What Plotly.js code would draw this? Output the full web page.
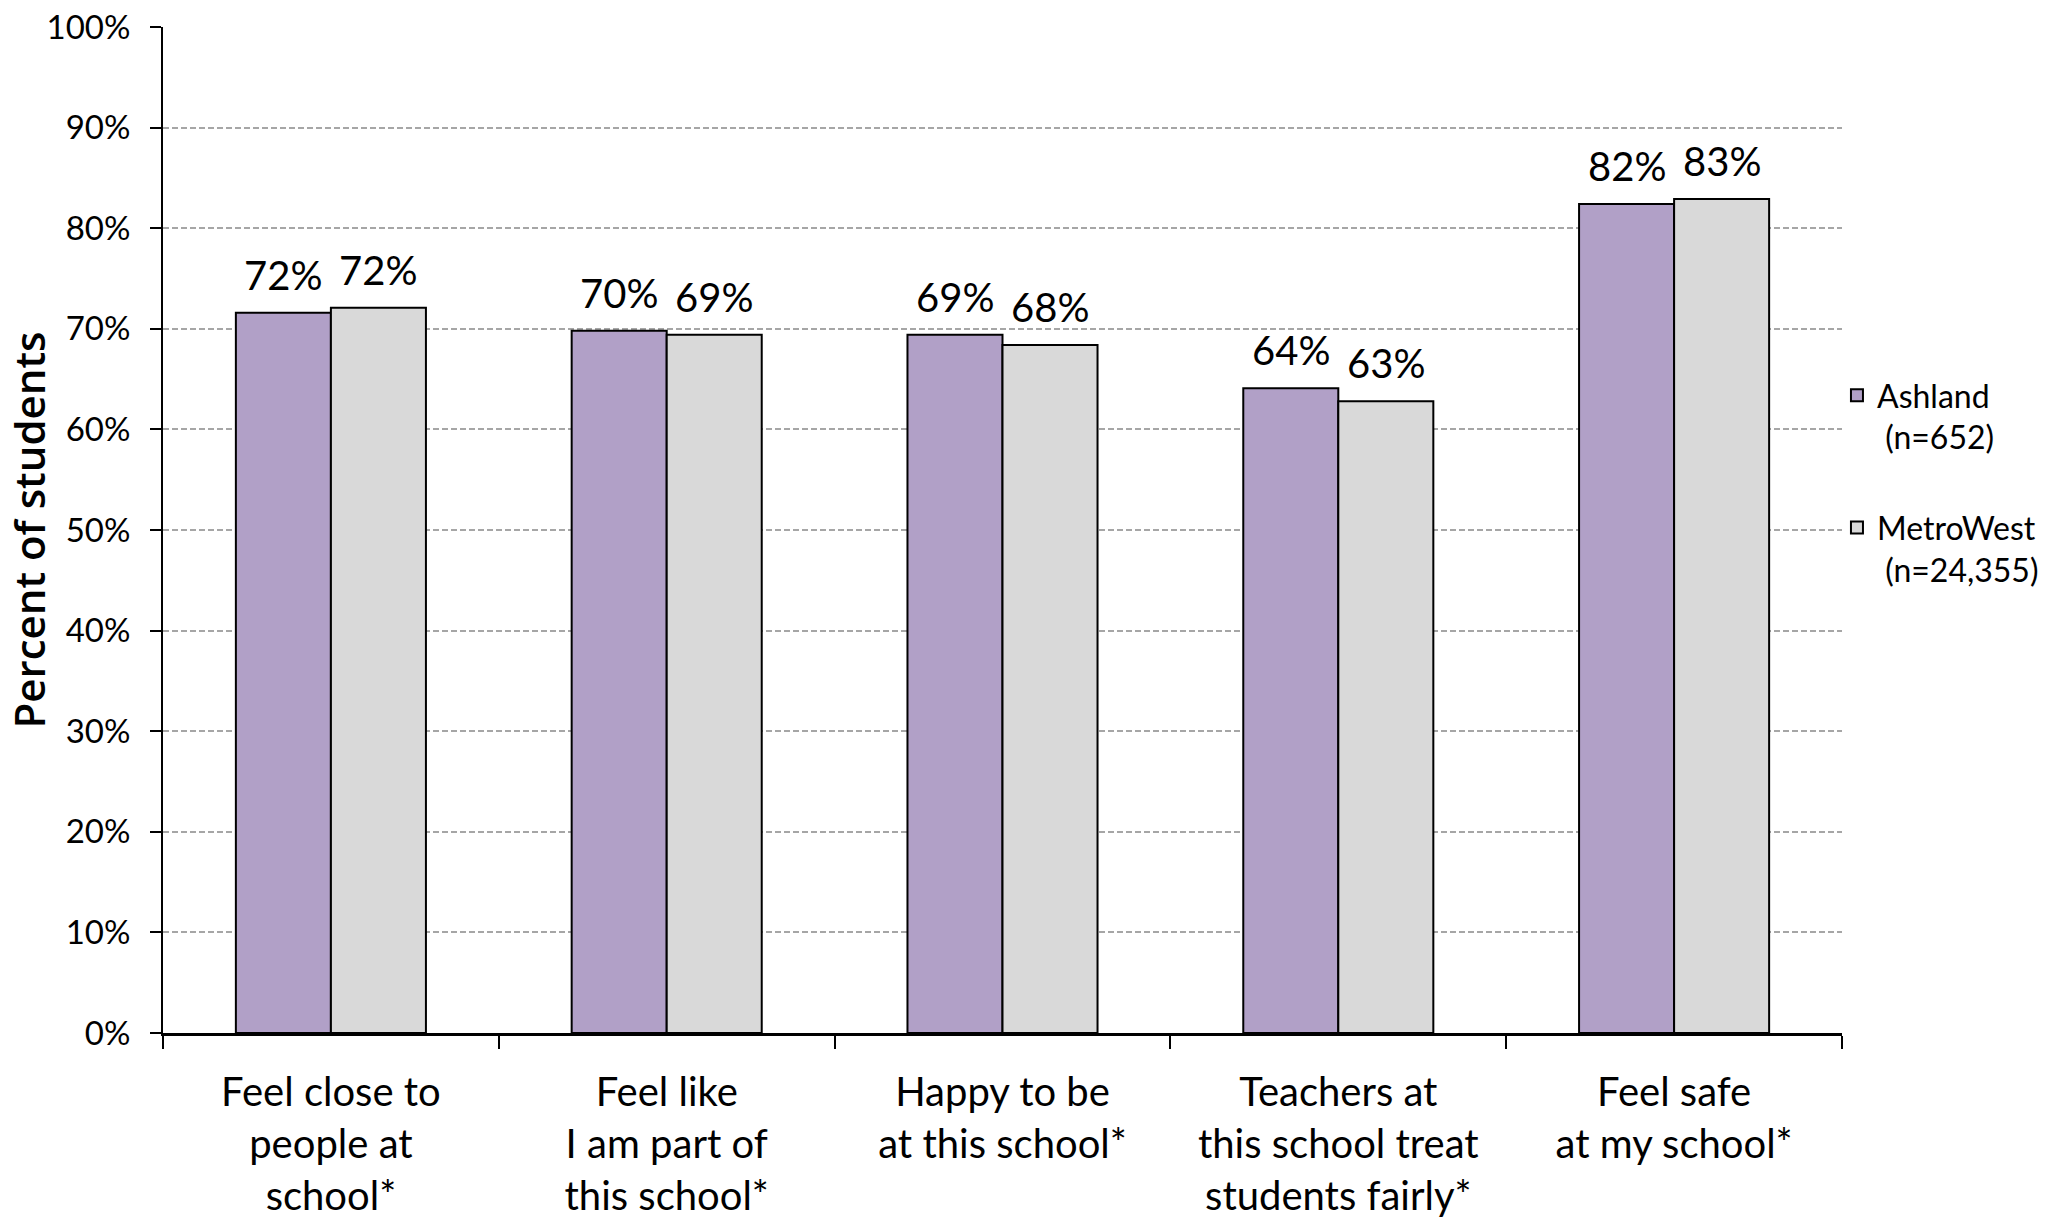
<!DOCTYPE html>
<html>
<head>
<meta charset="utf-8">
<script src="https://cdn.plot.ly/plotly-3.0.1.min.js"></script>
<style>
  html, body { margin: 0; padding: 0; background: #ffffff; }
  #chart { width: 2059px; height: 1225px; }
</style>
</head>
<body>
<div id="chart"></div>
<script>
// ---- data ----
const categories = [
  "Feel close to<br>people at<br>school*",
  "Feel like<br>I am part of<br>this school*",
  "Happy to be<br>at this school*",
  "Teachers at<br>this school treat<br>students fairly*",
  "Feel safe<br>at my school*"
];
const ashlandValues   = [71.6, 69.8, 69.4, 64.1, 82.4];
const metroWestValues = [72.1, 69.4, 68.4, 62.8, 82.9];
const seriesNames = ["Ashland<br> (n=652)", "MetroWest<br> (n=24,355)"];
const yTickValues = [0, 10, 20, 30, 40, 50, 60, 70, 80, 90, 100];
const yAxisTitle = "Percent of students";

const bodyFont = "Lato, 'Liberation Sans', sans-serif";
const BARGAP = 0.434;
const slot = (1 - BARGAP) / 2;   // width of one bar in category units

const traces = [
  {
    type: "bar",
    name: seriesNames[0],
    x: categories,
    y: ashlandValues,
    legendgroup: "a",
    hoverinfo: "skip",
    marker: { color: "#b1a0c7", line: { color: "#000000", width: 2 } }
  },
  {
    type: "bar",
    name: seriesNames[1],
    x: categories,
    y: metroWestValues,
    legendgroup: "b",
    hoverinfo: "skip",
    marker: { color: "#d9d9d9", line: { color: "#000000", width: 2 } }
  }
];

// value labels above each bar, positioned on the category axis serial scale
const annotations = [];
[ashlandValues, metroWestValues].forEach((vals, s) => {
  vals.forEach((v, i) => {
    annotations.push({
      x: i + (s === 0 ? -slot / 2 : slot / 2),
      y: v,
      xref: "x", yref: "y",
      text: Math.round(v) + "%",
      showarrow: false,
      xanchor: "center",
      yanchor: "bottom",
      yshift: 12,
      font: { family: bodyFont, size: 40, color: "#000000" }
    });
  });
});

const layout = {
  width: 2059,
  height: 1225,
  margin: { l: 163, r: 217, t: 27, b: 192, pad: 0 },
  paper_bgcolor: "#ffffff",
  plot_bgcolor: "#ffffff",
  barmode: "group",
  bargap: BARGAP,
  bargroupgap: 0,
  font: { family: bodyFont, color: "#000000" },
  showlegend: true,
  legend: {
    x: 0.997, xanchor: "left",
    y: 0.661, yanchor: "top",
    valign: "top",
    traceorder: "grouped",
    tracegroupgap: 46,
    font: { family: bodyFont, size: 32, color: "#000000" },
    bgcolor: "rgba(255,255,255,0)"
  },
  annotations: annotations,
  xaxis: {
    type: "category",
    showgrid: false,
    showline: true,
    linecolor: "#000000",
    linewidth: 2.5,
    ticks: "outside",
    tickson: "boundaries",
    ticklen: 13,
    tickwidth: 2,
    tickcolor: "#000000",
    tickangle: 0,
    ticklabelstandoff: 22,
    tickfont: { family: bodyFont, size: 40, color: "#000000" },
    zeroline: false,
    fixedrange: true
  },
  yaxis: {
    range: [0, 100],
    tickvals: yTickValues,
    ticktext: yTickValues.map(v => v + "%"),
    showline: true,
    linecolor: "#000000",
    linewidth: 2,
    ticks: "outside",
    ticklen: 11,
    tickwidth: 2,
    tickcolor: "#000000",
    ticklabelstandoff: 13,
    tickfont: { family: bodyFont, size: 33, color: "#000000" },
    showgrid: true,
    gridcolor: "#a6a6a6",
    gridwidth: 2,
    griddash: "6px,3px",
    zeroline: false,
    title: {
      text: yAxisTitle,
      font: { family: "'Open Sans', 'Liberation Sans', sans-serif", size: 42, color: "#000000", weight: 600 },
      standoff: 2
    },
    fixedrange: true
  }
};

Plotly.newPlot("chart", traces, layout, { displayModeBar: false, staticPlot: true });
</script>
</body>
</html>
